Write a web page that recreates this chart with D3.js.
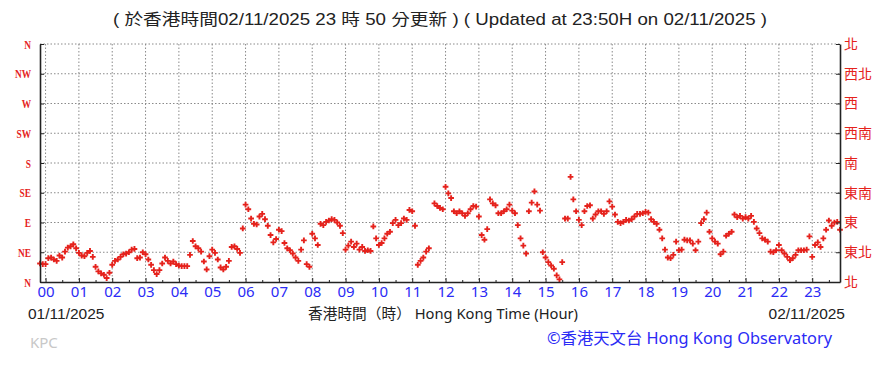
<!DOCTYPE html>
<html>
<head>
<meta charset="utf-8">
<script src="https://cdn.jsdelivr.net/npm/d3@7"></script>
<style>
  body { margin: 0; background: #fff; }
  svg { display: block; }
</style>
</head>
<body>
<svg id="chart" width="896" height="389"></svg>
<script>
// tick labels
const hourLabels = ['00', '01', '02', '03', '04', '05', '06', '07', '08', '09', '10', '11',
  '12', '13', '14', '15', '16', '17', '18', '19', '20', '21', '22', '23'];
const compassDegrees = [0, 45, 90, 135, 180, 225, 270, 315, 360];
const compassLabels = ['N', 'NE', 'E', 'SE', 'S', 'SW', 'W', 'NW', 'N'];
const compassLabelsZh = ['北', '東北', '東', '東南', '南', '西南', '西', '西北', '北'];

// wind direction (degrees), one reading every 5 minutes, starting 23:50 the day before
const sampleStartMinute = -10;
const sampleStepMinutes = 5;
const dirNightToDawn = [28, 27, 27, 36, 37, 34, 32, 40, 37, 46, 52, 54, 57, 51, 44, 40, 39, 44, 47, 38,
  23, 16, 13, 11, 6, 14, 26, 32, 34, 38, 42, 43, 45, 49, 50, 36, 37, 45, 42, 34,
  26, 18, 12, 18, 28, 37, 32, 28, 31, 27, 25, 24, 24, 24, 41, 62, 54, 51, 46, 31,
  19, 39, 49, 44, 34, 22, 19, 23, 32, 53, 54, 50, 44, 81];
const dirMorning = [117, 110, 96, 88, 87, 99, 103, 95, 85, 71, 60, 65, 79, 77, 59, 51, 48, 43, 37, 32,
  49, 63, 27, 23, 73, 66, 56, 88, 86, 91, 93, 95, 94, 90, 85, 74, 49, 55, 61, 53,
  58, 49, 53, 47, 48, 47, 84, 66, 56, 59, 66, 73, 76, 89, 94, 86, 89, 96, 94, 109,
  107, 85, 26, 32, 37, 46, 51, null, 119, 115, 112, 110];
const dirAfternoon = [144, 134, 127, 107, 104, 107, 104, 100, 104, 110, 115, 114, 99, 71, 64, 80, 125, 119, 116, 104,
  104, 107, 110, 117, 108, 104, 86, 66, 55, 43, 107, 120, 137, 117, 108, 45, 37, 30, 25, 20,
  10, 4, 30, 96, 96, 159, 125, 107, 94, 86, 107, 115, 116, 96, 102, 107, 107, 103, 107, 122,
  114, 102, 91, 89, 91, 94, 93, 95, 99, 103, 103, 104];
const dirEvening = [106, 105, 95, 91, 88, 79, 66, 49, 37, 36, 41, 61, 48, 49, 64, 63, 63, 58, 48, 61,
  89, 95, 105, 76, 66, 61, 58, 42, 46, 70, 73, 76, 102, 98, 100, 96, 98, 96, 100, 91,
  81, 74, 66, 64, 61, 46, 45, 48, 56, 48, 43, 38, 33, 36, 41, 48, 48, 48, 49, 69,
  38, 56, 60, 53, 66, 79, 93, 85, 90, 91, 79];

const windDir = [].concat(dirNightToDawn, dirMorning, dirAfternoon, dirEvening);
const points = windDir
  .map((d, i) => ({ minute: sampleStartMinute + i * sampleStepMinutes, dir: d }))
  .filter(d => d.dir !== null);

const plotLeft = 40, plotRight = 840, plotTop = 44, plotBottom = 282;
const red = '#e5221c';
const blue = '#2b2bf5';

const svg = d3.select('#chart');
svg.append('rect').attr('width', 896).attr('height', 389).attr('fill', '#fff');

const x = d3.scaleLinear().domain([-10, 1430]).range([plotLeft, plotRight]);
const y = d3.scaleLinear().domain([0, 360]).range([plotBottom, plotTop]);

const hourMinutes = hourLabels.map(h => +h * 60);
const halfHourMinutes = hourLabels.map(h => +h * 60 + 30);

// grid lines
svg.append('g')
  .selectAll('line')
  .data(hourMinutes)
  .enter()
  .append('line')
  .attr('x1', d => x(d)).attr('x2', d => x(d))
  .attr('y1', plotTop).attr('y2', plotBottom)
  .attr('stroke', '#8a8a8a')
  .attr('stroke-dasharray', '1.5,2');

svg.append('g')
  .selectAll('line')
  .data(compassDegrees.slice(1))
  .enter()
  .append('line')
  .attr('x1', plotLeft).attr('x2', plotRight)
  .attr('y1', d => y(d)).attr('y2', d => y(d))
  .attr('stroke', '#8a8a8a')
  .attr('stroke-dasharray', '1.5,2');

// wind direction points
svg.append('g')
  .selectAll('path')
  .data(points)
  .enter()
  .append('path')
  .attr('d', d3.symbol(d3.symbolCross, 18))
  .attr('transform', d => `translate(${x(d.minute)},${y(d.dir)})`)
  .attr('fill', red);

// left axis
const leftAxis = svg.append('g')
  .attr('transform', `translate(${plotLeft},0)`)
  .call(d3.axisLeft(y)
    .tickValues(compassDegrees)
    .tickFormat((d, i) => compassLabels[i])
    .tickSizeInner(-4)
    .tickSizeOuter(0)
    .tickPadding(9));
leftAxis.selectAll('text')
  .attr('fill', red)
  .style('font-family', '"Liberation Serif", "DejaVu Serif", serif')
  .style('font-size', '13px')
  .style('font-weight', 'bold')
  .attr('transform', 'scale(0.72,1)')
  .attr('x', -9 / 0.72);

// right axis
const rightAxis = svg.append('g')
  .attr('transform', `translate(${plotRight},0)`)
  .call(d3.axisRight(y)
    .tickValues(compassDegrees)
    .tickFormat((d, i) => compassLabelsZh[i])
    .tickSizeInner(-4)
    .tickSizeOuter(0)
    .tickPadding(4));
rightAxis.selectAll('text')
  .attr('fill', red)
  .style('font-family', '"Noto Sans CJK TC", sans-serif')
  .style('font-size', '14px');

// bottom axis
const bottomAxis = svg.append('g')
  .attr('transform', `translate(0,${plotBottom})`)
  .call(d3.axisBottom(x)
    .tickValues(hourMinutes)
    .tickFormat((d, i) => hourLabels[i])
    .tickSizeInner(-4)
    .tickSizeOuter(0)
    .tickPadding(4));
bottomAxis.selectAll('text')
  .attr('fill', blue)
  .style('font-family', '"Noto Sans", "Liberation Sans", sans-serif')
  .style('font-size', '15px');

svg.append('g')
  .attr('transform', `translate(0,${plotBottom})`)
  .call(d3.axisBottom(x)
    .tickValues(halfHourMinutes.filter(d => d < 1430))
    .tickFormat('')
    .tickSizeInner(-2)
    .tickSizeOuter(0))
  .select('.domain').remove();

svg.selectAll('.domain, .tick line').attr('stroke', '#222');
svg.selectAll('.domain').attr('stroke-width', 1.6);

// texts
const textFont = '"Liberation Sans", "Noto Sans CJK TC", sans-serif';

svg.append('text')
  .attr('x', 440).attr('y', 25)
  .attr('text-anchor', 'middle')
  .attr('textLength', 654)
  .attr('lengthAdjust', 'spacingAndGlyphs')
  .style('font-family', '"Liberation Sans Narrow", "Liberation Sans", "Noto Sans CJK TC", sans-serif')
  .style('font-size', '16px')
  .attr('fill', '#222')
  .text('( 於香港時間02/11/2025 23 時 50 分更新 ) ( Updated at 23:50H on 02/11/2025 )');

svg.append('text')
  .attr('x', 28).attr('y', 319)
  .style('font-family', textFont)
  .style('font-size', '15.5px')
  .attr('fill', '#222')
  .text('01/11/2025');

svg.append('text')
  .attr('x', 845).attr('y', 319)
  .attr('text-anchor', 'end')
  .style('font-family', textFont)
  .style('font-size', '15.5px')
  .attr('fill', '#222')
  .text('02/11/2025');

svg.append('text')
  .attr('x', 308).attr('y', 319)
  .attr('textLength', 270)
  .attr('lengthAdjust', 'spacingAndGlyphs')
  .style('font-family', '"Noto Sans", "Noto Sans CJK TC", sans-serif')
  .style('font-size', '14.5px')
  .attr('fill', '#222')
  .text('香港時間（時） Hong Kong Time (Hour)');

svg.append('text')
  .attr('x', 30).attr('y', 348)
  .style('font-family', '"Noto Sans", sans-serif')
  .style('font-size', '15px')
  .attr('fill', '#c8c8c8')
  .text('KPC');

svg.append('text')
  .attr('x', 547).attr('y', 344)
  .attr('textLength', 285)
  .attr('lengthAdjust', 'spacingAndGlyphs')
  .style('font-family', '"Noto Sans", "Noto Sans CJK TC", sans-serif')
  .style('font-size', '16px')
  .attr('fill', blue)
  .text('©香港天文台 Hong Kong Observatory');
</script>
</body>
</html>
